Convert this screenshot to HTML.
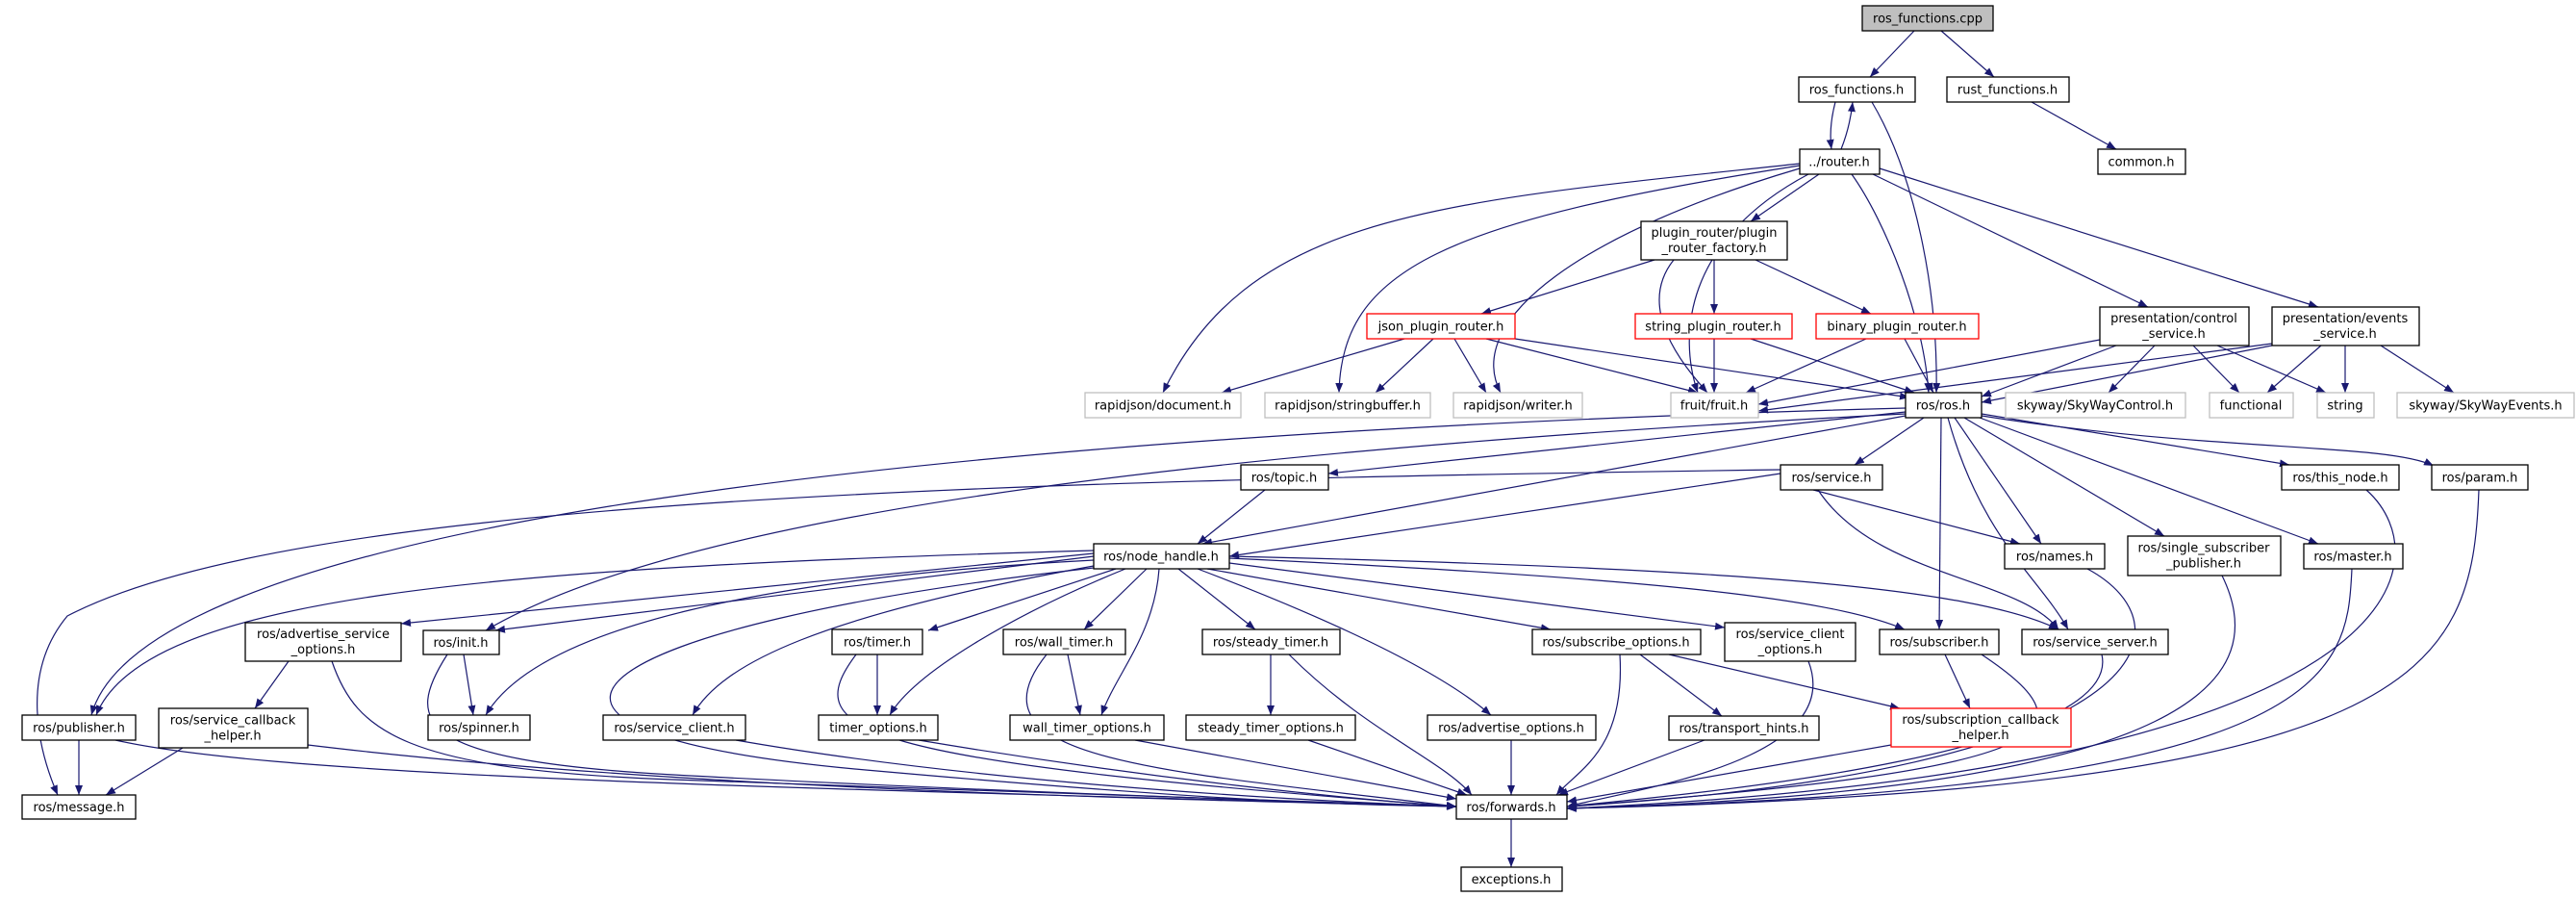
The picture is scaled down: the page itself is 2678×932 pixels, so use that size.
<!DOCTYPE html>
<html><head><meta charset="utf-8"><style>
html,body{margin:0;padding:0;background:#fff;}
svg{display:block;}
text{font-family:"DejaVu Sans","Liberation Sans",sans-serif;font-size:13px;text-anchor:middle;fill:#000;}
.e{fill:none;stroke:#191970;stroke-width:1.2;marker-end:url(#a);}
.n{fill:#fff;stroke:#000;stroke-width:1.3;}
.g{fill:#fff;stroke:#bfbfbf;stroke-width:1.3;}
.r{fill:#fff;stroke:#ff0000;stroke-width:1.3;}
</style></head><body>
<svg width="2678" height="932" viewBox="0 0 2678 932" xmlns="http://www.w3.org/2000/svg">
<defs><marker id="a" viewBox="0 0 10 8" refX="10" refY="4" markerWidth="10" markerHeight="8" markerUnits="userSpaceOnUse" orient="auto"><polygon points="0,0 10,4 0,8" fill="#191970"/></marker></defs>
<g>
<path class="e" d="M1990,32 L1944,80"/>
<path class="e" d="M2018,32 L2073,80"/>
<path class="e" d="M2112,106 L2200,155"/>
<path class="e" d="M1908,106 C1903,125 1902,140 1904,155"/>
<path class="e" d="M1914,155 C1920,140 1924,125 1926,106"/>
<path class="e" d="M1946,106 C1990,180 2015,300 2013,408"/>
<path class="e" d="M1891,181 L1820,230"/>
<path class="e" d="M1871,170 C1500,210 1300,220 1209,408"/>
<path class="e" d="M1871,172 C1500,230 1395,280 1392,408"/>
<path class="e" d="M1871,175 C1650,240 1520,330 1560,408"/>
<path class="e" d="M1880,181 C1750,250 1745,350 1765,408"/>
<path class="e" d="M1925,181 C1960,230 2000,330 2005,408"/>
<path class="e" d="M1947,181 L2233,319"/>
<path class="e" d="M1954,175 L2410,319"/>
<path class="e" d="M1720,270 L1540,326"/>
<path class="e" d="M1782,270 L1782,326"/>
<path class="e" d="M1825,270 L1945,326"/>
<path class="e" d="M1740,270 C1700,320 1750,380 1775,408"/>
<path class="e" d="M1460,352 L1270,408"/>
<path class="e" d="M1490,352 L1430,408"/>
<path class="e" d="M1512,352 L1545,408"/>
<path class="e" d="M1545,352 L1765,408"/>
<path class="e" d="M1575,352 L1985,413"/>
<path class="e" d="M1782,352 L1782,408"/>
<path class="e" d="M1820,352 L1990,408"/>
<path class="e" d="M1940,352 L1815,408"/>
<path class="e" d="M1980,352 L2010,408"/>
<path class="e" d="M2183,353 L1828,420"/>
<path class="e" d="M2200,359 L2060,412"/>
<path class="e" d="M2240,359 L2192,408"/>
<path class="e" d="M2280,359 L2328,408"/>
<path class="e" d="M2305,359 L2418,408"/>
<path class="e" d="M2362,357 L1828,427"/>
<path class="e" d="M2362,359 L2060,418"/>
<path class="e" d="M2413,359 L2357,408"/>
<path class="e" d="M2438,359 L2438,408"/>
<path class="e" d="M2475,359 L2551,408"/>
<path class="e" d="M1981,428 L1381,492"/>
<path class="e" d="M2000,434 L1928,483"/>
<path class="e" d="M2060,430 L2380,483"/>
<path class="e" d="M2060,432 C2300,470 2480,460 2530,484"/>
<path class="e" d="M1981,432 L1250,565"/>
<path class="e" d="M2032,434 L2122,565"/>
<path class="e" d="M2042,434 L2250,557"/>
<path class="e" d="M2058,434 L2410,565"/>
<path class="e" d="M1981,424 C1000,450 150,540 95,743"/>
<path class="e" d="M1981,430 C1200,470 700,540 505,655"/>
<path class="e" d="M2018,434 L2016,654"/>
<path class="e" d="M2025,434 C2060,560 2120,600 2150,654"/>
<path class="e" d="M1851,492 L1278,578"/>
<path class="e" d="M1851,488 C1000,500 300,520 70,640 C20,700 40,780 60,826"/>
<path class="e" d="M1885,509 L2100,565"/>
<path class="e" d="M1890,509 C1950,600 2100,600 2140,654"/>
<path class="e" d="M1315,509 L1245,565"/>
<path class="e" d="M1137,575 L417,648"/>
<path class="e" d="M1137,578 L515,655"/>
<path class="e" d="M1137,582 C800,600 560,650 505,743"/>
<path class="e" d="M1137,572 C500,590 150,620 100,743"/>
<path class="e" d="M1160,591 L965,655"/>
<path class="e" d="M1192,591 L1127,654"/>
<path class="e" d="M1225,591 L1305,654"/>
<path class="e" d="M1255,591 L1612,654"/>
<path class="e" d="M1278,585 L1793,652"/>
<path class="e" d="M1278,580 C1700,600 1900,620 1980,654"/>
<path class="e" d="M1278,578 C1800,590 2050,610 2140,654"/>
<path class="e" d="M1170,591 C1050,640 950,700 925,743"/>
<path class="e" d="M1205,591 C1200,660 1160,700 1145,743"/>
<path class="e" d="M1245,591 C1400,650 1500,700 1550,743"/>
<path class="e" d="M1137,588 C850,640 750,690 720,743"/>
<path class="e" d="M1137,590 C600,650 450,760 900,800 S1450,836 1514,838"/>
<path class="e" d="M300,687 L265,736"/>
<path class="e" d="M345,687 C370,760 420,800 700,810 S1400,835 1514,838"/>
<path class="e" d="M482,680 L492,743"/>
<path class="e" d="M465,680 C420,750 430,790 700,805 S1400,835 1514,838"/>
<path class="e" d="M912,680 L912,743"/>
<path class="e" d="M890,680 C830,760 880,790 1514,838"/>
<path class="e" d="M1110,680 L1123,743"/>
<path class="e" d="M1088,680 C1000,790 1200,800 1514,838"/>
<path class="e" d="M1321,680 L1321,743"/>
<path class="e" d="M1340,680 C1420,760 1500,790 1530,826"/>
<path class="e" d="M1684,680 C1690,780 1640,800 1618,826"/>
<path class="e" d="M1705,680 L1790,744"/>
<path class="e" d="M1735,680 L1975,736"/>
<path class="e" d="M1880,687 C1920,790 1700,820 1629,838"/>
<path class="e" d="M2022,680 L2048,736"/>
<path class="e" d="M2060,680 C2180,760 2150,800 1629,838"/>
<path class="e" d="M2185,680 C2210,790 1700,830 1629,838"/>
<path class="e" d="M82,769 L82,826"/>
<path class="e" d="M120,769 C300,810 900,820 1514,838"/>
<path class="e" d="M190,777 L110,826"/>
<path class="e" d="M320,774 C700,820 1200,830 1514,838"/>
<path class="e" d="M765,769 C1000,810 1300,830 1514,838"/>
<path class="e" d="M955,769 C1200,810 1400,830 1514,838"/>
<path class="e" d="M1180,769 L1514,830"/>
<path class="e" d="M1360,769 L1525,826"/>
<path class="e" d="M1571,769 L1571,826"/>
<path class="e" d="M1772,769 L1620,826"/>
<path class="e" d="M1966,774 L1629,833"/>
<path class="e" d="M2170,591 C2280,650 2250,800 1629,838"/>
<path class="e" d="M2310,598 C2360,700 2300,820 1629,840"/>
<path class="e" d="M2445,591 C2440,700 2430,820 1629,840"/>
<path class="e" d="M2460,509 C2540,580 2520,800 1629,840"/>
<path class="e" d="M2577,509 C2570,700 2520,820 1629,840"/>
<path class="e" d="M1571,851 L1571,901"/>
</g>
<g>
<rect x="1936" y="6" width="136" height="26" fill="#bfbfbf" stroke="#000" stroke-width="1.3"/><text x="2004" y="23.5">ros_functions.cpp</text>
<rect class="n" x="1870" y="80" width="121" height="26"/><text x="1930" y="97.5">ros_functions.h</text>
<rect class="n" x="2024" y="80" width="127" height="26"/><text x="2087" y="97.5">rust_functions.h</text>
<rect class="n" x="1871" y="155" width="83" height="26"/><text x="1912" y="172.5">../router.h</text>
<rect class="n" x="2181" y="155" width="91" height="26"/><text x="2226" y="172.5">common.h</text>
<rect class="n" x="1706" y="230" width="152" height="40"/><text x="1782" y="246">plugin_router/plugin</text><text x="1782" y="262">_router_factory.h</text>
<rect class="r" x="1421" y="326" width="154" height="26"/><text x="1498" y="343.5">json_plugin_router.h</text>
<rect class="r" x="1700" y="326" width="163" height="26"/><text x="1781" y="343.5">string_plugin_router.h</text>
<rect class="r" x="1888" y="326" width="169" height="26"/><text x="1972" y="343.5">binary_plugin_router.h</text>
<rect class="n" x="2183" y="319" width="155" height="40"/><text x="2260" y="335">presentation/control</text><text x="2260" y="351">_service.h</text>
<rect class="n" x="2362" y="319" width="153" height="40"/><text x="2438" y="335">presentation/events</text><text x="2438" y="351">_service.h</text>
<rect class="g" x="1128" y="408" width="162" height="26"/><text x="1209" y="425.5">rapidjson/document.h</text>
<rect class="g" x="1315" y="408" width="172" height="26"/><text x="1401" y="425.5">rapidjson/stringbuffer.h</text>
<rect class="g" x="1511" y="408" width="134" height="26"/><text x="1578" y="425.5">rapidjson/writer.h</text>
<rect class="g" x="1737" y="408" width="91" height="26"/><text x="1782" y="425.5">fruit/fruit.h</text>
<rect class="n" x="1981" y="408" width="79" height="26"/><text x="2020" y="425.5">ros/ros.h</text>
<rect class="g" x="2085" y="408" width="187" height="26"/><text x="2178" y="425.5">skyway/SkyWayControl.h</text>
<rect class="g" x="2297" y="408" width="87" height="26"/><text x="2340" y="425.5">functional</text>
<rect class="g" x="2409" y="408" width="59" height="26"/><text x="2438" y="425.5">string</text>
<rect class="g" x="2492" y="408" width="184" height="26"/><text x="2584" y="425.5">skyway/SkyWayEvents.h</text>
<rect class="n" x="1290" y="483" width="91" height="26"/><text x="1335" y="500.5">ros/topic.h</text>
<rect class="n" x="1851" y="483" width="106" height="26"/><text x="1904" y="500.5">ros/service.h</text>
<rect class="n" x="2372" y="483" width="122" height="26"/><text x="2433" y="500.5">ros/this_node.h</text>
<rect class="n" x="2528" y="483" width="100" height="26"/><text x="2578" y="500.5">ros/param.h</text>
<rect class="n" x="1137" y="565" width="141" height="26"/><text x="1207" y="582.5">ros/node_handle.h</text>
<rect class="n" x="2084" y="565" width="104" height="26"/><text x="2136" y="582.5">ros/names.h</text>
<rect class="n" x="2212" y="557" width="159" height="41"/><text x="2291" y="573.5">ros/single_subscriber</text><text x="2291" y="589.5">_publisher.h</text>
<rect class="n" x="2395" y="565" width="103" height="26"/><text x="2446" y="582.5">ros/master.h</text>
<rect class="n" x="255" y="647" width="162" height="40"/><text x="336" y="663">ros/advertise_service</text><text x="336" y="679">_options.h</text>
<rect class="n" x="440" y="655" width="79" height="25"/><text x="479" y="672">ros/init.h</text>
<rect class="n" x="865" y="654" width="94" height="26"/><text x="912" y="671.5">ros/timer.h</text>
<rect class="n" x="1043" y="654" width="127" height="26"/><text x="1106" y="671.5">ros/wall_timer.h</text>
<rect class="n" x="1250" y="654" width="143" height="26"/><text x="1321" y="671.5">ros/steady_timer.h</text>
<rect class="n" x="1593" y="654" width="175" height="26"/><text x="1680" y="671.5">ros/subscribe_options.h</text>
<rect class="n" x="1793" y="647" width="136" height="40"/><text x="1861" y="663">ros/service_client</text><text x="1861" y="679">_options.h</text>
<rect class="n" x="1954" y="654" width="124" height="26"/><text x="2016" y="671.5">ros/subscriber.h</text>
<rect class="n" x="2102" y="654" width="152" height="26"/><text x="2178" y="671.5">ros/service_server.h</text>
<rect class="n" x="23" y="743" width="118" height="26"/><text x="82" y="760.5">ros/publisher.h</text>
<rect class="n" x="165" y="736" width="155" height="41"/><text x="242" y="752.5">ros/service_callback</text><text x="242" y="768.5">_helper.h</text>
<rect class="n" x="445" y="743" width="106" height="26"/><text x="498" y="760.5">ros/spinner.h</text>
<rect class="n" x="627" y="743" width="148" height="26"/><text x="701" y="760.5">ros/service_client.h</text>
<rect class="n" x="851" y="743" width="124" height="26"/><text x="913" y="760.5">timer_options.h</text>
<rect class="n" x="1050" y="743" width="160" height="26"/><text x="1130" y="760.5">wall_timer_options.h</text>
<rect class="n" x="1233" y="743" width="176" height="26"/><text x="1321" y="760.5">steady_timer_options.h</text>
<rect class="n" x="1484" y="743" width="175" height="26"/><text x="1571" y="760.5">ros/advertise_options.h</text>
<rect class="n" x="1735" y="744" width="156" height="25"/><text x="1813" y="761">ros/transport_hints.h</text>
<rect class="r" x="1966" y="736" width="187" height="40"/><text x="2059" y="752">ros/subscription_callback</text><text x="2059" y="768">_helper.h</text>
<rect class="n" x="23" y="826" width="118" height="25"/><text x="82" y="843">ros/message.h</text>
<rect class="n" x="1514" y="826" width="115" height="25"/><text x="1571" y="843">ros/forwards.h</text>
<rect class="n" x="1519" y="901" width="105" height="25"/><text x="1571" y="918">exceptions.h</text>
</g>
</svg>
</body></html>
